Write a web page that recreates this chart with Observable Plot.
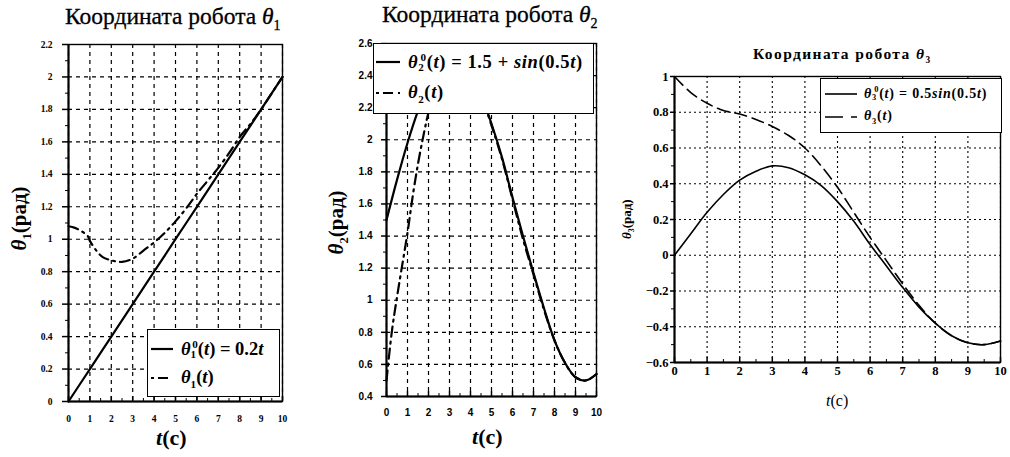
<!DOCTYPE html>
<html><head><meta charset="utf-8">
<script src="https://cdn.jsdelivr.net/npm/d3@7"></script>
<script src="https://cdn.jsdelivr.net/npm/@observablehq/plot@0.6"></script>
<style>
body{margin:0;background:#fff;}
#wrap{position:relative;width:1010px;height:457px;overflow:hidden;font-family:'Liberation Serif';color:#000;background:#fff}
.abs{position:absolute;white-space:nowrap;line-height:1;font-family:'Liberation Serif'}
.leg{position:absolute;background:#fff;border:1.3px solid #000;box-sizing:border-box;font-family:'Liberation Serif'}
.row{position:absolute;display:flex;align-items:center;white-space:nowrap;font-weight:bold;font-family:'Liberation Serif'}
i{font-style:italic}
.rot{transform:rotate(-90deg);transform-origin:center center}
</style></head>
<body><div id="wrap"></div>
<script>
// ---------- data ----------
// Panel 1: θ1
const t1Ref = [0, 1, 2, 3, 4, 5, 6, 7, 8, 9, 10];
const th1Ref = [0, 0.2, 0.4, 0.6, 0.8, 1.0, 1.2, 1.4, 1.6, 1.8, 2.0];
const t1Act = [0, 0.3, 0.6, 0.9, 1.0, 1.3, 1.6, 2.0, 2.5, 3.0, 3.5, 4.0, 4.5, 5.0, 5.5, 6.0, 6.5, 7.0, 7.5, 8.0, 8.5, 9.0, 9.5, 10];
const th1Act = [1.08, 1.07, 1.05, 1.02, 0.99, 0.93, 0.89, 0.87, 0.86, 0.88, 0.93, 0.98, 1.04, 1.11, 1.19, 1.28, 1.36, 1.44, 1.53, 1.63, 1.71, 1.80, 1.90, 2.0];
// Panel 2: θ2
const t2 = [0, 0.5, 1, 1.5, 2, 2.5, 3, 3.5, 4, 4.5, 5, 5.5, 6, 6.5, 7, 7.5, 8, 8.5, 9, 9.5, 10];
const th2Ref = [1.50, 1.75, 1.98, 2.18, 2.34, 2.45, 2.50, 2.48, 2.41, 2.28, 2.10, 1.89, 1.64, 1.40, 1.17, 0.95, 0.75, 0.61, 0.52, 0.50, 0.54];
const t2Act = [0, 0.25, 0.5, 0.75, 1.0, 1.25, 1.5, 1.75, 2.0, 2.5, 3, 3.5, 4, 4.5, 5, 5.5, 6, 6.5, 7, 7.5, 8, 8.5, 9, 9.5, 10];
const th2Act = [0.50, 0.80, 1.02, 1.22, 1.42, 1.65, 1.85, 2.02, 2.17, 2.40, 2.52, 2.53, 2.45, 2.28, 2.09, 1.88, 1.63, 1.38, 1.16, 0.94, 0.75, 0.61, 0.52, 0.50, 0.54];
// Panel 3: θ3
const t3 = [0, 0.5, 1, 1.5, 2, 2.5, 3, 3.5, 4, 4.5, 5, 5.5, 6, 6.5, 7, 7.5, 8, 8.5, 9, 9.5, 10];
const th3Ref = [0, 0.12, 0.24, 0.34, 0.42, 0.47, 0.50, 0.49, 0.45, 0.39, 0.30, 0.19, 0.06, -0.06, -0.18, -0.29, -0.38, -0.45, -0.49, -0.50, -0.48];
const th3Act = [1.0, 0.91, 0.85, 0.81, 0.79, 0.76, 0.72, 0.67, 0.60, 0.50, 0.38, 0.24, 0.10, -0.03, -0.16, -0.28, -0.38, -0.45, -0.49, -0.50, -0.48];
// ticks
const xTicks = [0, 1, 2, 3, 4, 5, 6, 7, 8, 9, 10];
const xMinor = [0.5, 1.5, 2.5, 3.5, 4.5, 5.5, 6.5, 7.5, 8.5, 9.5];
const y1Ticks = [0, 0.2, 0.4, 0.6, 0.8, 1, 1.2, 1.4, 1.6, 1.8, 2, 2.2];
const y1Minor = [0.1, 0.3, 0.5, 0.7, 0.9, 1.1, 1.3, 1.5, 1.7, 1.9, 2.1];
const y2Ticks = [0.4, 0.6, 0.8, 1, 1.2, 1.4, 1.6, 1.8, 2, 2.2, 2.4, 2.6];
const y2Minor = [0.5, 0.7, 0.9, 1.1, 1.3, 1.5, 1.7, 1.9, 2.1, 2.3, 2.5];
const y3Ticks = [-0.6, -0.4, -0.2, 0, 0.2, 0.4, 0.6, 0.8, 1];
const y3Minor = [-0.5, -0.3, -0.1, 0.1, 0.3, 0.5, 0.7, 0.9];

const wrap = document.getElementById("wrap");
const fmt = d3.format("~g");

function panel(o) {
  const refData = o.tRef.map((t, i) => ({t, v: o.vRef[i]}));
  const actData = o.tAct.map((t, i) => ({t, v: o.vAct[i]}));
  const ymin = o.yDomain[0];
  const chart = Plot.plot({
    width: o.width, height: o.height,
    marginLeft: o.ml, marginRight: o.mr, marginTop: o.mt, marginBottom: o.mb,
    x: {domain: [0, 10]},
    y: {domain: o.yDomain},
    style: {fontFamily: o.font, fontSize: o.fontSize + "px", fontWeight: "bold", background: "transparent", overflow: "visible"},
    marks: [
      Plot.gridX(xTicks, {stroke: "#000", strokeOpacity: 1, strokeWidth: o.gridW, strokeDasharray: o.gridDash}),
      Plot.gridY(o.yTicks, {stroke: "#000", strokeOpacity: 1, strokeWidth: o.gridW, strokeDasharray: o.gridDash}),
      Plot.line(refData, {x: "t", y: "v", stroke: "#000", strokeWidth: o.lineW, curve: "catmull-rom"}),
      Plot.line(actData, {x: "t", y: "v", stroke: "#000", strokeWidth: o.lineW, strokeDasharray: o.dash, curve: "catmull-rom"}),
      Plot.frame({stroke: "#000", strokeWidth: 1.4}),
      Plot.ruleX([0], {stroke: "#000", strokeWidth: 2}),
      Plot.ruleY([ymin], {stroke: "#000", strokeWidth: 2}),
      Plot.axisX(xTicks, {tickSize: 0, tickPadding: o.xPad, tickFormat: fmt, label: null, fontFamily: o.font}),
      Plot.axisX(xTicks, {tickSize: -5, tickFormat: () => "", label: null, strokeWidth: 1.5}),
      Plot.axisX(xMinor, {tickSize: -3, tickFormat: () => "", label: null}),
      Plot.axisY(o.yTicks, {tickSize: o.yTick, tickPadding: o.yPad, tickFormat: fmt, label: null, strokeWidth: 1.5, fontFamily: o.font}),
      Plot.axisY(o.yMinor, {tickSize: 3, tickFormat: () => "", label: null})
    ]
  });
  chart.setAttribute("font-family", o.font);
  chart.style.position = "absolute";
  chart.style.left = o.left + "px";
  chart.style.top = o.top + "px";
  wrap.appendChild(chart);
}

panel({left: 20, top: 34, width: 270, height: 391, ml: 48, mr: 8, mt: 10, mb: 24,
  yDomain: [0, 2.2], yTicks: y1Ticks, yMinor: y1Minor,
  tRef: t1Ref, vRef: th1Ref, tAct: t1Act, vAct: th1Act,
  font: "Liberation Serif", fontSize: 9.5, xPad: 14, yTick: 6, yPad: 10,
  gridW: 1.2, gridDash: "4,4", lineW: 2.2, dash: "10,5,2,5"});

panel({left: 340, top: 33, width: 264, height: 388, ml: 46, mr: 8, mt: 10, mb: 25,
  yDomain: [0.4, 2.6], yTicks: y2Ticks, yMinor: y2Minor,
  tRef: t2, vRef: th2Ref, tAct: t2Act, vAct: th2Act,
  font: "Liberation Sans", fontSize: 10, xPad: 12, yTick: 5, yPad: 9,
  gridW: 1.2, gridDash: "4,4", lineW: 2.2, dash: "10,5,2,5"});

panel({left: 632, top: 66, width: 376, height: 316, ml: 42, mr: 8, mt: 10, mb: 20,
  yDomain: [-0.6, 1], yTicks: y3Ticks, yMinor: y3Minor,
  tRef: t3, vRef: th3Ref, tAct: t3, vAct: th3Act,
  font: "Liberation Serif", fontSize: 12.5, xPad: 4, yTick: 4, yPad: 2,
  gridW: 1.1, gridDash: "2,3", lineW: 1.6, dash: "12,6"});

// ---------- text overlays ----------
function add(html, style, cls) {
  const d = document.createElement("div");
  d.className = cls || "abs";
  d.innerHTML = html;
  Object.assign(d.style, style);
  wrap.appendChild(d);
  return d;
}
function sample(dash, w, sw) {
  return `<svg width="${w}" height="8" style="flex:none"><line x1="0" y1="4" x2="${w}" y2="4" stroke="#000" stroke-width="${sw}" ${dash ? `stroke-dasharray="${dash}"` : ""}/></svg>`;
}
const sub = (n) => `<sub style='font-size:0.6em'>${n}</sub>`;
const subsup = (n) => `<sub style="font-size:0.6em;vertical-align:-0.3em">${n}</sub><sup style="font-size:0.6em;margin-left:-0.35em">0</sup>`;
// titles
add("Координата робота <i>θ</i>" + sub(1), {left: "65px", top: "5px", fontSize: "23.5px", WebkitTextStroke: "0.3px #000"});
add("Координата робота <i>θ</i>" + sub(2), {left: "382px", top: "3px", fontSize: "23.5px", WebkitTextStroke: "0.3px #000"});
add("Координата робота <i>θ</i>" + sub(3), {left: "753px", top: "46px", fontSize: "15.5px", fontWeight: "bold", letterSpacing: "1.4px"});
// axis labels
add("<i>t</i>(c)", {left: "156px", top: "427px", fontSize: "22px", fontWeight: "bold"});
add("<i>t</i>(c)", {left: "472px", top: "426px", fontSize: "22px", fontWeight: "bold"});
add("<i>t</i>(c)", {left: "826px", top: "393px", fontSize: "16px"});
add("<i>θ</i>" + sub(1) + "(рад)", {left: "-24px", top: "206px", width: "90px", textAlign: "center", fontSize: "21px", fontWeight: "bold"}, "abs rot");
add("<i>θ</i>" + sub(2) + "(рад)", {left: "293px", top: "210px", width: "90px", textAlign: "center", fontSize: "21px", fontWeight: "bold"}, "abs rot");
add("<i>θ</i>" + sub(3) + "(рад)", {left: "598px", top: "211px", width: "60px", textAlign: "center", fontSize: "13px", fontWeight: "bold"}, "abs rot");
// legends
add(`<div class="row" style="left:3px;top:8px;font-size:18.5px">${sample("", 22, 2.2)}<span style="margin-left:8px"><i>θ</i>${subsup(1)}(<i>t</i>) = 0.2<i>t</i></span></div>
<div class="row" style="left:3px;top:37px;font-size:18.5px">${sample("3,4,10,5", 22, 2.2)}<span style="margin-left:8px"><i>θ</i>${sub(1)}(<i>t</i>)</span></div>`,
  {left: "147px", top: "329px", width: "133px", height: "68px"}, "leg");
add(`<div class="row" style="left:2px;top:7px;font-size:18.5px;letter-spacing:0.6px">${sample("", 24, 2.2)}<span style="margin-left:8px"><i>θ</i>${subsup(2)}(<i>t</i>) = 1.5 + <i>sin</i>(0.5<i>t</i>)</span></div>
<div class="row" style="left:2px;top:38px;font-size:18.5px;letter-spacing:0.6px">${sample("3,4,10,5", 24, 2.2)}<span style="margin-left:8px"><i>θ</i>${sub(2)}(<i>t</i>)</span></div>`,
  {left: "373px", top: "43px", width: "221px", height: "71px"}, "leg");
add(`<div class="row" style="left:4px;top:6px;font-size:14px;letter-spacing:0.8px">${sample("", 32, 1.6)}<span style="margin-left:7px"><i>θ</i>${subsup(3)}(<i>t</i>) = 0.5<i>sin</i>(0.5<i>t</i>)</span></div>
<div class="row" style="left:4px;top:29px;font-size:14px;letter-spacing:0.8px">${sample("18,8,6,4", 32, 1.6)}<span style="margin-left:7px"><i>θ</i>${sub(3)}(<i>t</i>)</span></div>`,
  {left: "820px", top: "78px", width: "182px", height: "55px"}, "leg");
</script>
</body></html>
